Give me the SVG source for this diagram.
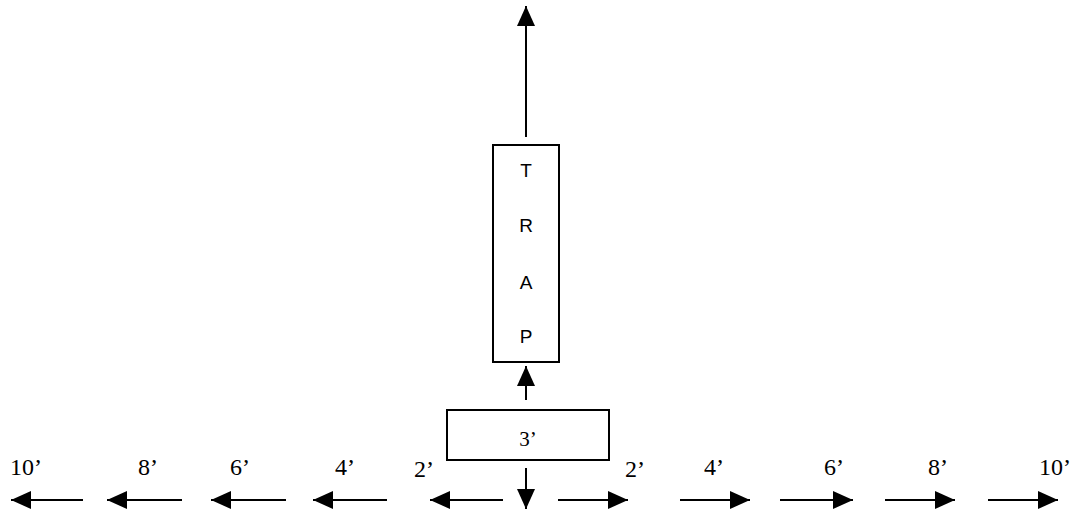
<svg xmlns="http://www.w3.org/2000/svg" width="1076" height="517" viewBox="0 0 1076 517">
<style>
.box{fill:#fff;stroke:#000;stroke-width:2}
.ln{stroke:#000;stroke-width:2;fill:none;marker-end:url(#ah)}
.trap{font-family:"Liberation Sans",Arial,sans-serif;font-size:19px;text-anchor:middle;fill:#000}
.lbl{font-family:"Liberation Serif","Times New Roman",serif;font-size:24px;text-anchor:middle;fill:#000}
.lbl3{font-family:"Liberation Serif","Times New Roman",serif;font-size:21px;text-anchor:middle;fill:#000}
</style>
<defs>
<marker id="ah" markerUnits="userSpaceOnUse" markerWidth="22" markerHeight="20" refX="20" refY="9" orient="auto">
<path d="M0,0 L20,9 L0,18 Z" fill="#000"/>
</marker>
</defs>
<rect width="1076" height="517" fill="#fff"/>
<g id="connectors">
<line class="ln" x1="526" y1="137" x2="526" y2="6"/>
<line class="ln" x1="526" y1="400" x2="526" y2="366"/>
<line class="ln" x1="526" y1="468" x2="526" y2="509"/>
<line class="ln" x1="83" y1="500" x2="11" y2="500"/>
<line class="ln" x1="182" y1="500" x2="107" y2="500"/>
<line class="ln" x1="286" y1="500" x2="211" y2="500"/>
<line class="ln" x1="387" y1="500" x2="313" y2="500"/>
<line class="ln" x1="503" y1="500" x2="430" y2="500"/>
<line class="ln" x1="558" y1="500" x2="628" y2="500"/>
<line class="ln" x1="680" y1="500" x2="750" y2="500"/>
<line class="ln" x1="780" y1="500" x2="853" y2="500"/>
<line class="ln" x1="885" y1="500" x2="955" y2="500"/>
<line class="ln" x1="988" y1="500" x2="1058" y2="500"/>
</g>
<g id="trap">
<rect class="box" x="493" y="145" width="66" height="217"/>
<text class="trap" x="526" y="177">T</text>
<text class="trap" x="526" y="232">R</text>
<text class="trap" x="526" y="289">A</text>
<text class="trap" x="526" y="343">P</text>
</g>
<g id="box3">
<rect class="box" x="447" y="410" width="162" height="50"/>
<text class="lbl3" x="528" y="446">3’</text>
</g>
<g id="labels">
<text class="lbl" x="26" y="475">10’</text>
<text class="lbl" x="148" y="475">8’</text>
<text class="lbl" x="240" y="475">6’</text>
<text class="lbl" x="345" y="475">4’</text>
<text class="lbl" x="424" y="477">2’</text>
<text class="lbl" x="635" y="477">2’</text>
<text class="lbl" x="714" y="475">4’</text>
<text class="lbl" x="834" y="475">6’</text>
<text class="lbl" x="938" y="475">8’</text>
<text class="lbl" x="1055" y="475">10’</text>
</g>
</svg>
